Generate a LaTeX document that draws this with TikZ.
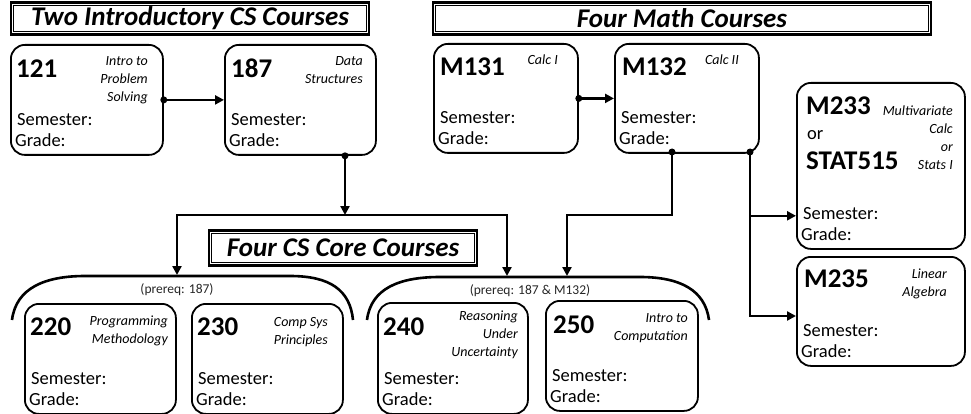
\documentclass[tikz,border=0pt]{standalone}
\usepackage{fontspec}
\setmainfont{Carlito}
\usetikzlibrary{arrows.meta,calc}
% course box with the two empty fields
\newcommand{\course}[4]{%
  \node[coursebox,minimum width=#3,minimum height=#4,anchor=north west] (#1) at (#2) {};
  \node[info] (#1sem) at ($(#1.south west)+(7,-30)$) {Semester:};
  \node[info] (#1gr) at ($(#1.south west)+(5,-9)$) {Grade:};
}
% inner frame of a heading
\newcommand{\innerframe}[1]{%
  \draw[line width=1pt] ($(#1.south west)+(4,-4)$) rectangle ($(#1.north east)+(-4,4)$);
}

\begin{document}
\begin{tikzpicture}[x=1pt,y=-1pt,
    coursebox/.style={draw,line width=1.8pt,rounded corners=14pt,inner sep=0pt},
    info/.style={anchor=base west,inner sep=0pt,font=\fontsize{18.5}{22}\selectfont},
    num/.style={anchor=base west,inner sep=0pt,font=\fontsize{27}{30}\selectfont\bfseries},
    desc/.style={anchor=north east,inner sep=0pt,align=right,font=\fontsize{14}{18}\selectfont\itshape},
    title/.style={draw,line width=2.6pt,inner sep=0pt,font=\fontsize{27}{30}\selectfont\bfseries\itshape},
    prereq/.style={anchor=base,inner sep=0pt,text=black!85,font=\fontsize{13.5}{16}\selectfont},
    link/.style={line width=2.6pt},
    tip/.style={-{Triangle[length=9pt,width=9pt]}},
    brace/.style={line width=2.6pt}]
  \useasboundingbox (0,0) rectangle (971,414);

  % headings
  \node[title,minimum width=358,minimum height=32] (tcs) at (190,18.5) {Two Introductory CS Courses};
  \innerframe{tcs}
  \node[title,minimum width=498,minimum height=32] (tmath) at (682,18.5) {Four Math Courses};
  \innerframe{tmath}
  \node[title,minimum width=268,minimum height=35] (tcore) at (343,248) {Four CS Core Courses};
  \innerframe{tcore}

  % boxes
  \course{c121}{10,44}{152}{110}
  \course{c187}{224,44}{151}{110}
  \course{m131}{433,43}{144}{109}
  \course{m132}{614,43}{144}{109}
  \course{m233}{796,82}{168}{166}
  \course{m235}{796,256}{168}{109}
  \course{c220}{24,303}{151}{110}
  \course{c230}{191,303}{151}{110}
  \course{c240}{377,302}{150}{111}
  \course{c250}{545,300}{152}{110}

  % numbers and names
  \node[num] (n121) at (16,78) {121};
  \node[desc] (d121) at (148,56.5) {Intro to\\Problem\\Solving};
  \node[num] (n187) at (231,78) {187};
  \node[desc] (d187) at (363,56.5) {Data\\Structures};
  \node[num] (n131) at (440,76) {M131};
  \node[desc] (d131) at (558,54.5) {Calc I};
  \node[num] (n132) at (622,76) {M132};
  \node[desc] (d132) at (739,54.5) {Calc II};
  \node[num] (n233) at (806,115) {M233};
  \node[info] (or233) at (807,140) {or};
  \node[num] (n515) at (806,170) {STAT515};
  \node[desc] (d233) at (953,105.5) {Multivariate\\Calc\\or\\Stats I};
  \node[num] (n235) at (804,287) {M235};
  \node[desc] (d235) at (947,268.5) {Linear\\Algebra};
  \node[num] (n220) at (30,335) {220};
  \node[desc] (d220) at (168,315.5) {Programming\\Methodology};
  \node[num] (n230) at (197,335) {230};
  \node[desc] (d230) at (328,317.5) {Comp Sys\\Principles};
  \node[num] (n240) at (383,335) {240};
  \node[desc] (d240) at (518,310.5) {Reasoning\\Under\\Uncertainty};
  \node[num] (n250) at (553,333) {250};
  \node[desc] (d250) at (688,313.5) {Intro to\\Computation};

  % brackets over the core courses
  \draw[brace] (12,320) .. controls (16,288) and (45,276) .. (85,276) -- (290,276)
        .. controls (330,276) and (350,290) .. (353,320);
  \draw[brace] (367,320) .. controls (371,288) and (400,277) .. (440,277) -- (640,277)
        .. controls (680,277) and (705,290) .. (709,320);
  \node[prereq] (p1) at (177,293) {(prereq: 187)};
  \node[prereq] (p2) at (530,294) {(prereq: 187 \& M132)};

  \coordinate (split) at (345,215);
  \coordinate (pre1) at (177,275);
  \coordinate (pre2) at (507,276);
  \coordinate (pre3) at (567,276);
  \coordinate (mleft) at (672,152);
  \coordinate (mright) at (750,152);

  % connectors
  \draw[link,tip] (c121.east) -- (c187.west);
  \fill (c121.east) circle (3.5pt);
  \draw[link,tip] (m131.east) -- (m132.west);
  \fill (m131.east) circle (3.5pt);
  \draw[link,tip] (c187.south -| split) -- (split);
  \fill (c187.south -| split) circle (3.5pt);
  \draw[link,{Triangle[length=9pt,width=9pt]}-{Triangle[length=9pt,width=9pt]}] (pre1) |- (split) -| (pre2);
  \draw[link,tip] (mleft) -- ++(0,63) -| (pre3);
  \fill (mleft) circle (3.5pt);
  \draw[link,tip] (mright) |- ($(m233.south west)+(0,-34)$);
  \draw[link,tip] (mright) |- ($(m235.north west)+(0,60)$);
  \fill (mright) circle (3.5pt);
\end{tikzpicture}
\end{document}
